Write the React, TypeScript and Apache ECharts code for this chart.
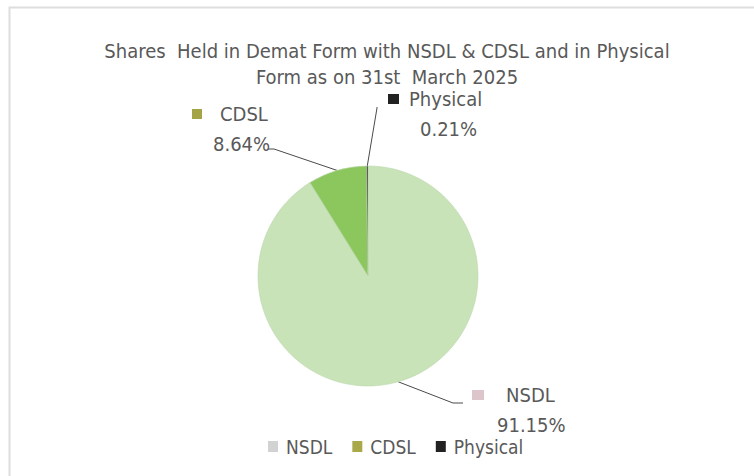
import React, { useEffect, useRef } from "react";
import * as echarts from "echarts";

const titleLines = [
  "Shares  Held in Demat Form with NSDL & CDSL and in Physical",
  "Form as on 31st  March 2025",
];
const categories = ["NSDL", "CDSL", "Physical"];
const shares = [91.15, 8.64, 0.21];
const sliceColors = ["#c8e3b7", "#8cc75e", "#222222"];
const markerColors = ["#dcc6cc", "#a3a446", "#222222"];
const legendColors = ["#d2d2d2", "#aaa94a", "#222222"];

const FONT = "DejaVu Sans Condensed";
const TEXT = "#595959";

export default function App() {
  const ref = useRef<HTMLDivElement>(null);
  useEffect(() => {
    if (!ref.current) return;
    const chart = echarts.init(ref.current, null, { renderer: "svg" });
    // label block positions (left edge, vertical middle), gaps and leader-line elbows
    const labelPos = [
      { x: 472, y: 410, gap: 22, indent: 25, mw: 12, elbow: [453, 403], end: [463, 403] },
      { x: 192, y: 129, gap: 18, indent: 21, mw: 10, elbow: [274, 149], end: [268, 149] },
      { x: 388, y: 114, gap: 10, indent: 32, mw: 11, elbow: [377, 108], end: [377, 107] },
    ];
    const rich: any = {};
    labelPos.forEach((lp, i) => {
      rich["m" + i] = { width: lp.mw, height: 10, backgroundColor: markerColors[i] };
      rich["n" + i] = {
        fontFamily: FONT, fontSize: 20, color: TEXT, lineHeight: 30,
        padding: [0, 0, 0, lp.gap],
      };
      rich["v" + i] = {
        fontFamily: FONT, fontSize: 20, color: TEXT, lineHeight: 30,
        padding: [0, 0, 0, lp.indent],
      };
    });
    chart.setOption({
      animation: false,
      backgroundColor: "#ffffff",
      title: {
        text: titleLines.join("\n"),
        left: 382,
        top: 33,
        textAlign: "center",
        textStyle: {
          fontFamily: FONT,
          fontSize: 20,
          fontWeight: "normal",
          color: TEXT,
          lineHeight: 26,
        },
      },
      graphic: [
        {
          type: "rect",
          shape: { x: 9.5, y: 7.5, width: 800, height: 520 },
          style: { fill: "none", stroke: "#dedede", lineWidth: 2 },
          silent: true,
        },
      ],
      legend: {
        left: 263,
        top: 432,
        itemWidth: 10,
        itemHeight: 11,
        itemGap: 20,
        icon: "rect",
        textStyle: { fontFamily: FONT, fontSize: 19, color: TEXT, padding: [0, 0, 0, 3] },
        data: categories.map((c, i) => ({
          name: c,
          itemStyle: { color: legendColors[i], borderWidth: 0, borderColor: legendColors[i] },
        })),
      },
      series: [
        {
          type: "pie",
          center: [368, 276],
          radius: 110,
          startAngle: 90,
          clockwise: true,
          label: {
            show: true,
            position: "outside",
            fontFamily: FONT,
            color: TEXT,
            align: "left",
            formatter: (p: any) =>
              `{m${p.dataIndex}|}{n${p.dataIndex}|${p.name}}\n{v${p.dataIndex}|${p.value.toFixed(2)}%}`,
            rich,
          },
          labelLine: { show: true, lineStyle: { color: "#4a4a4a", width: 1 } },
          labelLayout: (params: any) => {
            const lp = labelPos[params.dataIndex];
            const start = params.labelLinePoints ? params.labelLinePoints[0] : lp.elbow;
            return {
              x: lp.x,
              y: lp.y,
              align: "left",
              verticalAlign: "middle",
              labelLinePoints: [start, lp.elbow, lp.end],
            };
          },
          itemStyle: { borderColor: "#bcd6ad", borderWidth: 0.6 },
          data: categories.map((c, i) => ({
            name: c,
            value: shares[i],
            itemStyle: { color: sliceColors[i] },
          })),
        },
      ],
    });
    return () => chart.dispose();
  }, []);
  return (
    <div
      ref={ref}
      style={{ position: "fixed", left: 0, top: 0, width: 754, height: 476 }}
    />
  );
}
